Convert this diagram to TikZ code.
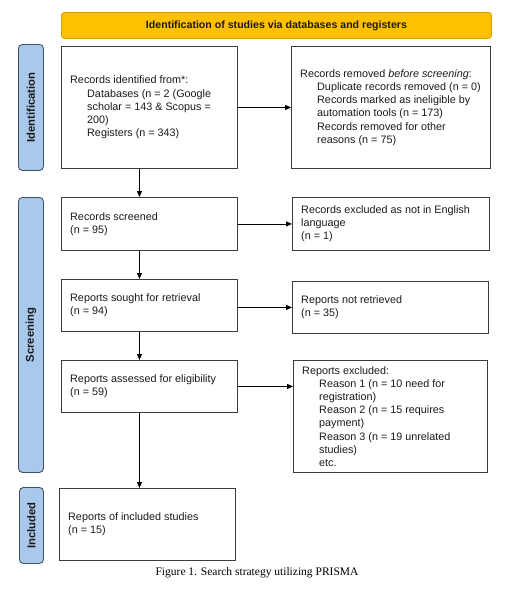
\documentclass[tikz,border=0pt]{standalone}
\usepackage{fontspec}
\setmainfont{Liberation Sans}
\newfontfamily\capfont{Liberation Serif}
\usetikzlibrary{arrows.meta}
\definecolor{hdrfill}{HTML}{FFC000}
\definecolor{hdrline}{HTML}{D6A200}
\definecolor{barfill}{HTML}{A9C8EC}
\definecolor{barline}{HTML}{3F5068}
\definecolor{boxline}{HTML}{3C3C3C}
\definecolor{txtcol}{HTML}{1A1A1A}
\tikzset{
  pbox/.style={draw=boxline, line width=0.9pt, anchor=north west, inner sep=0pt},
  txt/.style={anchor=west, inner sep=0pt, align=left, text=txtcol, font=\fontsize{10.8}{13.2}\selectfont},
  sidebar/.style={draw=barline, fill=barfill, line width=0.9pt, rounded corners=4pt, anchor=north west, inner sep=0pt},
  sidelabel/.style={rotate=90, text=txtcol, font=\fontsize{11.3}{12}\selectfont\bfseries},
  arr/.style={-{Triangle[length=6pt,width=5pt]}, line width=0.9pt, black},
}
\newcommand{\ind}{\hspace*{17pt}}
\begin{document}
\begin{tikzpicture}[x=1pt,y=-1pt]
\useasboundingbox (0,0) rectangle (513,592);
% header
\node[draw=hdrline, fill=hdrfill, line width=0.9pt, rounded corners=3pt, anchor=north west,
      minimum width=430pt, minimum height=26pt, inner sep=0pt, text=txtcol,
      font=\fontsize{10.6}{12}\selectfont\bfseries] (hdr) at (61,12)
      {Identification of studies via databases and registers};
% side bars
\node[sidebar, minimum width=25pt, minimum height=126pt] (barid) at (18,44) {};
\node[sidelabel] (labid) at (barid.center) {Identification};
\node[sidebar, minimum width=25pt, minimum height=275pt] (barsc) at (18,197) {};
\node[sidelabel] (labsc) at (barsc.center) {Screening};
\node[sidebar, minimum width=24pt, minimum height=76pt] (barin) at (19,487) {};
\node[sidelabel] (labin) at (barin.center) {Included};
% boxes
\node[pbox, minimum width=176pt, minimum height=122pt] (b1) at (61,46) {};
\node[pbox, minimum width=199pt, minimum height=122pt] (b2) at (291,46) {};
\node[pbox, minimum width=176pt, minimum height=53pt] (b3) at (61,197) {};
\node[pbox, minimum width=197pt, minimum height=53pt] (b4) at (292,197) {};
\node[pbox, minimum width=176pt, minimum height=52pt] (b5) at (61,279) {};
\node[pbox, minimum width=196pt, minimum height=52pt] (b6) at (292,281) {};
\node[pbox, minimum width=176pt, minimum height=52pt] (b7) at (61,360) {};
\node[pbox, minimum width=194pt, minimum height=112pt] (b8) at (293,360) {};
\node[pbox, minimum width=176pt, minimum height=72pt] (b9) at (59,488) {};
% texts
\node[txt] (t1) at ([xshift=9pt]b1.west) {Records identified from*:\\
  \ind Databases (n = 2 (Google\\
  \ind scholar = 143 \& Scopus =\\
  \ind 200)\\
  \ind Registers (n = 343)};
\node[txt] (t2) at ([xshift=9pt]b2.west) {Records removed \textit{before screening}:\\
  \ind Duplicate records removed (n = 0)\\
  \ind Records marked as ineligible by\\
  \ind automation tools (n = 173)\\
  \ind Records removed for other\\
  \ind reasons (n = 75)};
\node[txt] (t3) at ([xshift=9pt]b3.west) {Records screened\\(n = 95)};
\node[txt] (t4) at ([xshift=9pt]b4.west) {Records excluded as not in English\\language\\(n = 1)};
\node[txt] (t5) at ([xshift=9pt]b5.west) {Reports sought for retrieval\\(n = 94)};
\node[txt] (t6) at ([xshift=9pt]b6.west) {Reports not retrieved\\(n = 35)};
\node[txt] (t7) at ([xshift=9pt]b7.west) {Reports assessed for eligibility\\(n = 59)};
\node[txt] (t8) at ([xshift=9pt]b8.west) {Reports excluded:\\
  \ind Reason 1 (n = 10 need for\\
  \ind registration)\\
  \ind Reason 2 (n = 15 requires\\
  \ind payment)\\
  \ind Reason 3 (n = 19 unrelated\\
  \ind studies)\\
  \ind etc.};
\node[txt] (t9) at ([xshift=9pt]b9.west) {Reports of included studies\\(n = 15)};
% arrows
\draw[arr] (b1.east) -- (b2.west);
\draw[arr] (b3.east) -- (b3.east -| b4.west);
\draw[arr] (b5.east |- b6.west) -- (b6.west);
\draw[arr] (b7.east) -- (b7.east -| b8.west);
\draw[arr] ([xshift=-10pt]b1.south) -- ([xshift=-10pt]b1.south |- b3.north);
\draw[arr] ([xshift=-10pt]b3.south) -- ([xshift=-10pt]b3.south |- b5.north);
\draw[arr] ([xshift=-10pt]b5.south) -- ([xshift=-10pt]b5.south |- b7.north);
\draw[arr] ([xshift=-10pt]b7.south) -- ([xshift=-10pt]b7.south |- b9.north);
% caption
\node[inner sep=0pt, font=\capfont\fontsize{11.5}{12}\selectfont] (cap) at (257,573) {Figure 1. Search strategy utilizing PRISMA};
\end{tikzpicture}
\end{document}
